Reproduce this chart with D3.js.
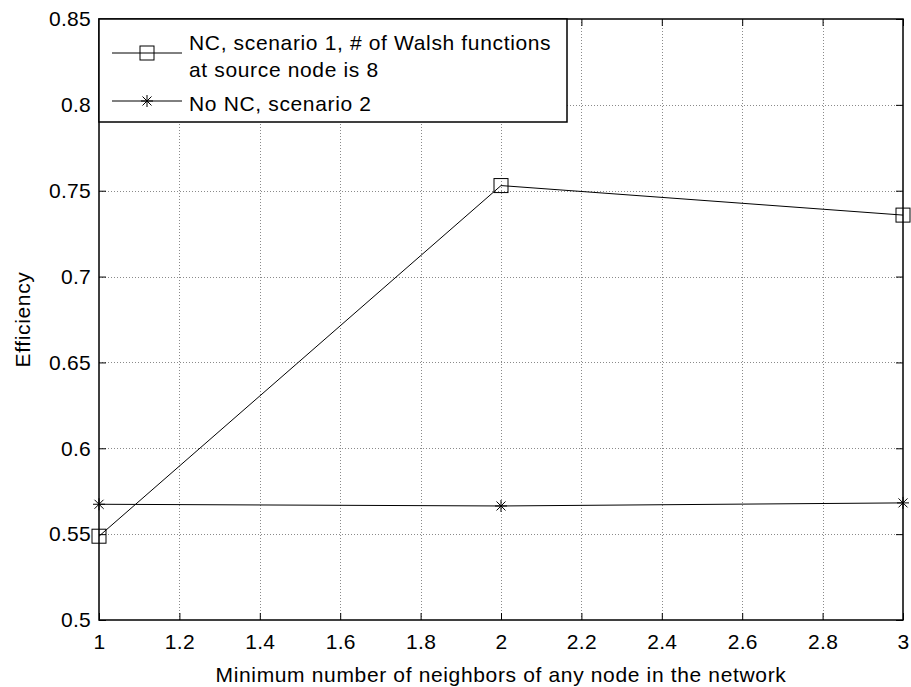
<!DOCTYPE html>
<html>
<head>
<meta charset="utf-8">
<script src="https://cdn.jsdelivr.net/npm/d3@7"></script>
<style>
  html, body { margin: 0; padding: 0; background: #fff; }
  svg text { font-family: "Liberation Sans", Arial, sans-serif; fill: #000; }
</style>
</head>
<body>
<svg id="chart" width="911" height="687"></svg>
<script>
// Efficiency vs. minimum neighbour count
const neighbors = [1, 2, 3];
const ncScenario1 = [0.5488, 0.7530, 0.7358];
const noNcScenario2 = [0.5674, 0.5664, 0.5682];
const xTicks = [1, 1.2, 1.4, 1.6, 1.8, 2, 2.2, 2.4, 2.6, 2.8, 3];
const yTicks = [0.5, 0.55, 0.6, 0.65, 0.7, 0.75, 0.8, 0.85];
const legendLabels = [
  ["NC, scenario 1, # of Walsh functions", "at source node is 8"],
  ["No NC, scenario 2"]
];

const svg = d3.select("#chart");
const plotL = 99, plotR = 903, plotT = 19, plotB = 620;
const fontSize = 21;
const textSpacing = "0.65px";

const x = d3.scaleLinear().domain([1, 3]).range([plotL, plotR]);
const y = d3.scaleLinear().domain([0.5, 0.85]).range([plotB, plotT]);

// dotted grid
const grid = svg.append("g").attr("stroke", "#8a8a8a").attr("stroke-width", 1)
  .attr("stroke-dasharray", "1,2").attr("shape-rendering", "crispEdges");
grid.selectAll("line.vx").data(xTicks.slice(1, -1)).join("line")
  .attr("x1", d => Math.round(x(d)) + 0.5).attr("x2", d => Math.round(x(d)) + 0.5)
  .attr("y1", plotT).attr("y2", plotB);
grid.selectAll("line.hy").data(yTicks.slice(1, -1)).join("line")
  .attr("y1", d => Math.round(y(d)) + 0.5).attr("y2", d => Math.round(y(d)) + 0.5)
  .attr("x1", plotL).attr("x2", plotR);

// axes with inward ticks on all sides
const tickLen = 7;
const axisBottom = d3.axisBottom(x).tickValues(xTicks).tickFormat(d3.format("")).tickSize(-tickLen).tickPadding(14);
const axisTop = d3.axisTop(x).tickValues(xTicks).tickFormat("").tickSize(-tickLen);
const axisLeft = d3.axisLeft(y).tickValues(yTicks).tickFormat(d3.format("")).tickSize(-tickLen).tickPadding(8);
const axisRight = d3.axisRight(y).tickValues(yTicks).tickFormat("").tickSize(-tickLen);

function styleAxis(g) {
  g.select(".domain").remove();
  g.selectAll(".tick line").attr("stroke", "#000").attr("stroke-width", 1);
  g.selectAll(".tick text").attr("font-size", fontSize).attr("letter-spacing", "0.3px")
    .attr("font-family", "Liberation Sans, Arial, sans-serif").attr("fill", "#000");
}
svg.append("g").attr("transform", `translate(0,${plotB})`).call(axisBottom).call(styleAxis);
svg.append("g").attr("transform", `translate(0,${plotT})`).call(axisTop).call(styleAxis);
svg.append("g").attr("transform", `translate(${plotL},0)`).call(axisLeft).call(styleAxis);
svg.append("g").attr("transform", `translate(${plotR},0)`).call(axisRight).call(styleAxis);

// plot frame
svg.append("rect").attr("x", plotL).attr("y", plotT).attr("width", plotR - plotL).attr("height", plotB - plotT)
  .attr("fill", "none").attr("stroke", "#000").attr("stroke-width", 1.5);

// series lines
const line = d3.line().x(d => x(d[0])).y(d => y(d[1]));
const series = [
  { values: ncScenario1, marker: "square" },
  { values: noNcScenario2, marker: "star" }
];

function drawMarker(g, kind, cx, cy) {
  if (kind === "square") {
    g.append("rect").attr("x", cx - 7).attr("y", cy - 7).attr("width", 14).attr("height", 14)
      .attr("fill", "none").attr("stroke", "#000").attr("stroke-width", 1);
  } else {
    const r = 6, d = 4.5;
    const p = `M${cx},${cy - r}L${cx},${cy + r}M${cx - r},${cy}L${cx + r},${cy}` +
      `M${cx - d},${cy - d}L${cx + d},${cy + d}M${cx - d},${cy + d}L${cx + d},${cy - d}`;
    g.append("path").attr("d", p).attr("fill", "none").attr("stroke", "#000").attr("stroke-width", 1);
  }
}

series.forEach(s => {
  const pts = neighbors.map((n, i) => [n, s.values[i]]);
  svg.append("path").datum(pts).attr("d", line).attr("fill", "none")
    .attr("stroke", "#000").attr("stroke-width", 1);
  const mg = svg.append("g");
  pts.forEach(p => drawMarker(mg, s.marker, x(p[0]), y(p[1])));
});

// legend
const lg = svg.append("g");
lg.append("rect").attr("x", plotL).attr("y", plotT).attr("width", 468).attr("height", 103)
  .attr("fill", "#fff").attr("stroke", "#000").attr("stroke-width", 1.5);
const legendRows = [
  { lineY: 53, textY: 50, marker: "square" },
  { lineY: 101, textY: 111, marker: "star" }
];
legendRows.forEach((r, i) => {
  lg.append("line").attr("x1", plotL + 13).attr("x2", plotL + 83).attr("y1", r.lineY).attr("y2", r.lineY)
    .attr("stroke", "#000").attr("stroke-width", 1);
  drawMarker(lg, r.marker, plotL + 48, r.lineY);
  const t = lg.append("text").attr("x", plotL + 90).attr("y", r.textY)
    .attr("font-size", fontSize).attr("letter-spacing", textSpacing);
  legendLabels[i].forEach((txt, k) => {
    t.append("tspan").attr("x", plotL + 90).attr("dy", k === 0 ? 0 : 27).text(txt);
  });
});

// axis titles
svg.append("text").attr("x", (plotL + plotR) / 2).attr("y", 682).attr("text-anchor", "middle")
  .attr("font-size", fontSize).attr("letter-spacing", textSpacing)
  .text("Minimum number of neighbors of any node in the network");
svg.append("text").attr("transform", `translate(30,${(plotT + plotB) / 2}) rotate(-90)`)
  .attr("text-anchor", "middle").attr("font-size", fontSize).attr("letter-spacing", textSpacing)
  .text("Efficiency");
</script>
</body>
</html>
